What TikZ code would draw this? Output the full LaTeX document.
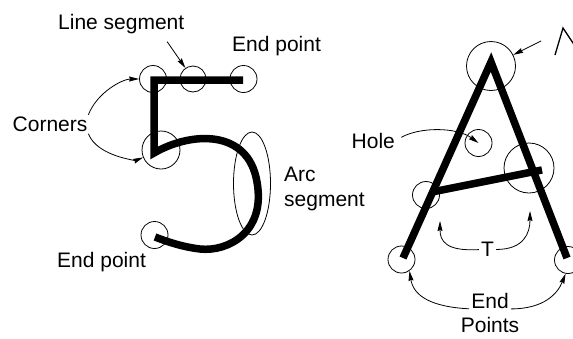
\documentclass[tikz,border=0pt]{standalone}
\usepackage{fontspec}
\setmainfont{Liberation Sans}
\usetikzlibrary{arrows.meta, positioning}

\begin{document}
\begin{tikzpicture}[
    x=1pt, y=-1pt, >={Stealth[length=10pt, width=5pt, inset=1pt]},
    lbl/.style={inner sep=0pt, font=\fontsize{21}{25}\selectfont},
    ring/.style={draw, circle, line width=0.8pt, inner sep=0pt},
    stroke/.style={line width=7.5pt, line join=miter},
    note/.style={->, line width=0.8pt, shorten <=2pt}
  ]
  \useasboundingbox (0,0) rectangle (573,338);

  \draw[stroke] (243,80) -- (154,80) -- (154,153)
    .. controls (190,132) and (248,128) .. (257,182)
    .. controls (266,232) and (228,252) .. (200,249)
    .. controls (183,247) and (168,242) .. (155,237);
  \draw[stroke] (403,258) -- (491,62) -- (567,258);
  \draw[stroke] (432,192) -- (542,170);

  \node[ring, minimum size=27pt] (c1) at (153,79) {};
  \node[ring, minimum size=26pt] (c2) at (193,79) {};
  \node[ring, minimum size=27pt] (c3) at (243.5,79) {};
  \node[ring, minimum size=38pt] (c4) at (161,150) {};
  \node[ring, minimum size=27pt] (c5) at (154.5,235) {};
  \draw[line width=0.8pt] (252,183.5) ellipse [x radius=18.5, y radius=51.5];

  \node[ring, minimum size=49pt] (apex) at (491,66) {};
  \node[ring, minimum size=27pt] (hc) at (478.5,143) {};
  \node[ring, minimum size=27pt] (xl) at (426,195) {};
  \node[ring, minimum size=50pt] (xr) at (529,168) {};
  \node[ring, minimum size=27pt] (e1) at (401.5,259.5) {};
  \node[ring, minimum size=27pt] (e2) at (568,260) {};
  \draw[line width=1.3pt] (555,55) -- (563,28) -- (579,52);

  \node[lbl, anchor=base west] (lseg) at (58,29) {Line segment};
  \node[lbl, anchor=base west] (endtop) at (232,51) {End point};
  \node[lbl, anchor=base west] (corners) at (12.5,131.5) {Corners};
  \node[lbl, anchor=north west, align=left] (arcseg) at (284,166.5)
    {Arc\\segment};
  \node[lbl, anchor=base west] (endbot) at (57,267) {End point};
  \node[lbl, anchor=base west] (hole) at (351.5,148.3) {Hole};
  \node[lbl, anchor=base] (tee) at (487.5,256.7) {T};
  \node[lbl, anchor=base] (eptop) at (490,308.5) {End};
  \node[lbl, below=8.5pt of eptop] (epbot) {Points};

  \coordinate (lsegtail) at (166,40);
  \coordinate (apextail) at (543,40);
  \coordinate (tltip) at (440,221);
  \coordinate (trtip) at (530,211);

  \draw[note] (lsegtail) -- (c2);
  \draw[note] (apextail) -- (apex);
  \draw[note] (corners.north east) .. controls +(10,-25) and +(-30,0) .. (c1);
  \draw[note] (corners.south east) .. controls +(10,25) and +(-24,10) .. (c4);
  \draw[note, shorten <=7pt] (hole.east) .. controls +(25,-14) and +(-22,-16)
    .. (hc.center);
  \draw[note] (tee.west) .. controls +(-35,2) and +(0,20) .. (tltip);
  \draw[note] (tee.east) .. controls +(30,0) and +(0,22) .. (trtip);
  \draw[note] (eptop.south west) .. controls +(-40,-2) and +(4,25) .. (e1.-55);
  \draw[note] (eptop.south east) .. controls +(35,0) and +(-8,20) .. (e2.-100);
\end{tikzpicture}
\end{document}
